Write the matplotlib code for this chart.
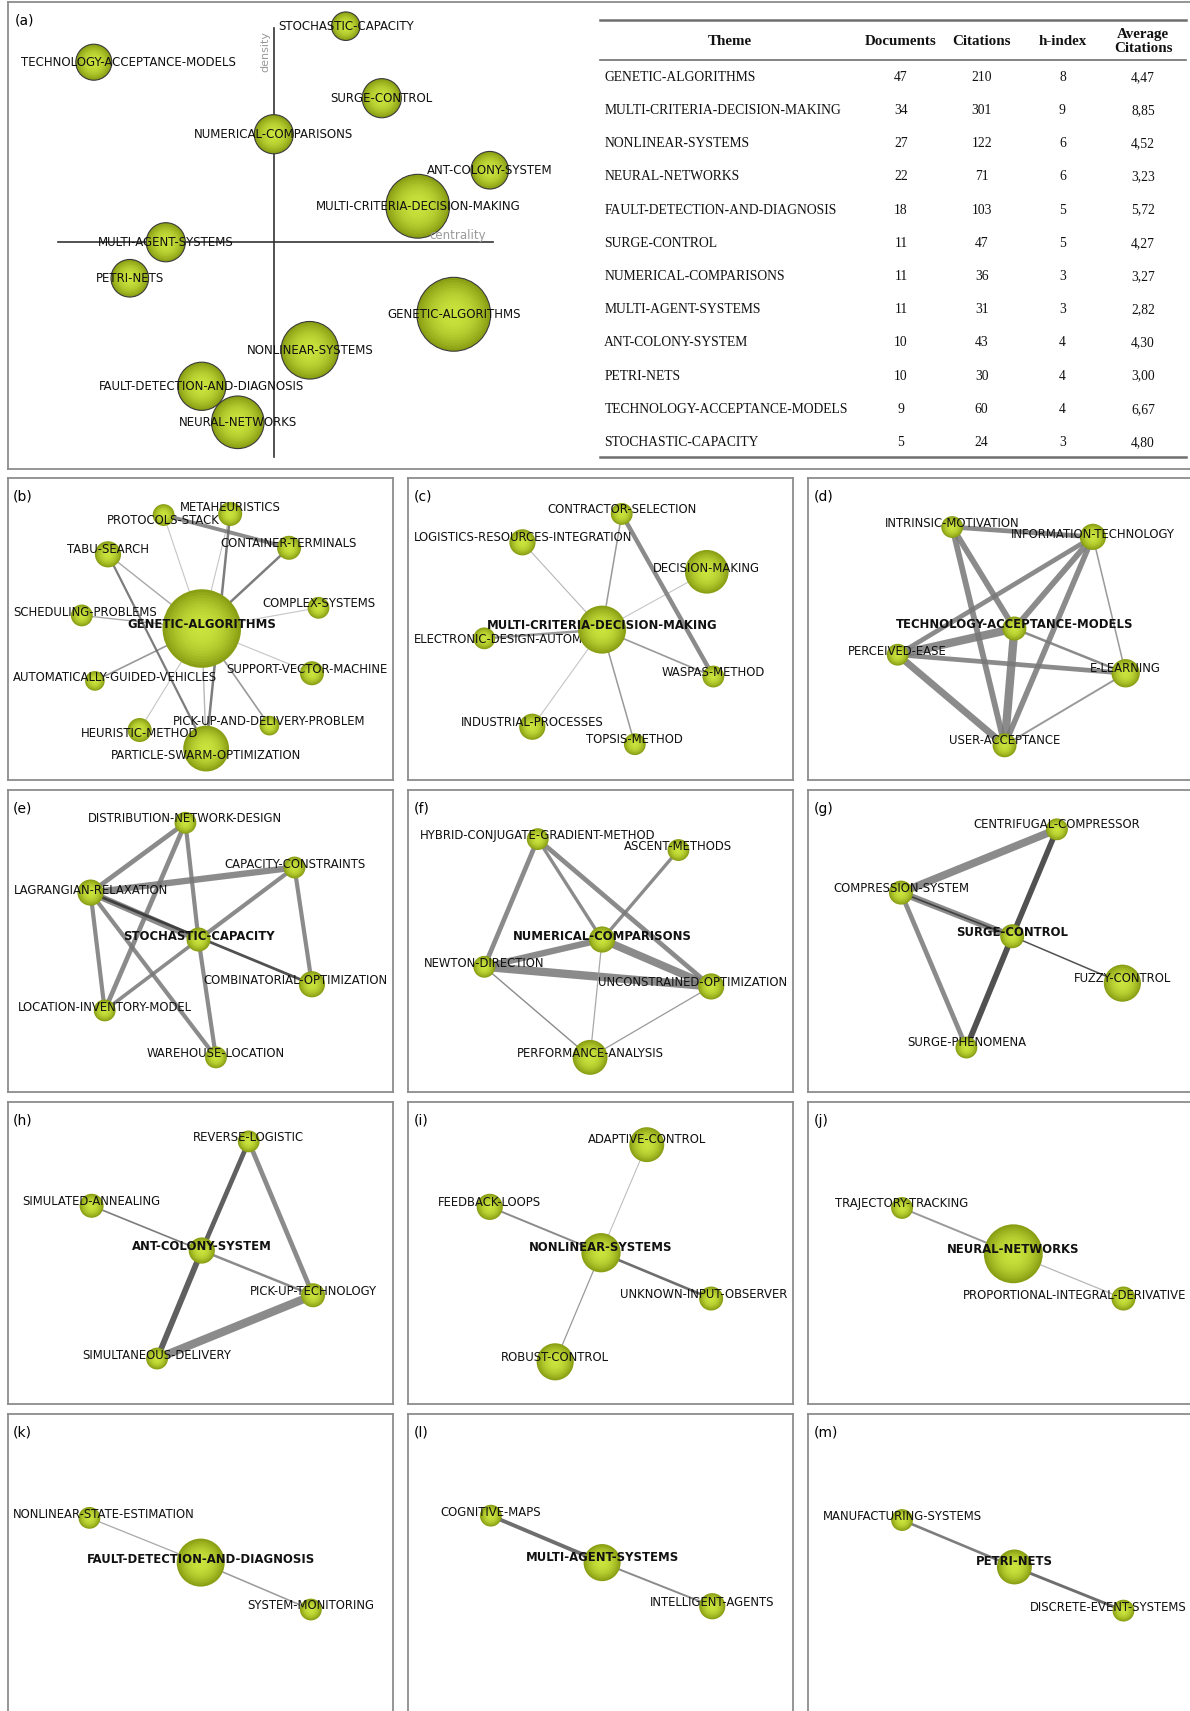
import numpy as np
import matplotlib
matplotlib.use("Agg")
import matplotlib.pyplot as plt
import matplotlib.patches as patches
from matplotlib.colors import to_rgb

# layout units: the figure is W x H "units" (1 unit ~ 1.09 output px)
W, H = 1091.0, 1568.0
PW, PH = 353.0, 277.0
COL_X = [7, 374, 741]
ROW_Y = [438, 724, 1010, 1296]

# ---------------- panel (a): strategic diagram + table ----------------
themes = ["GENETIC-ALGORITHMS", "MULTI-CRITERIA-DECISION-MAKING", "NONLINEAR-SYSTEMS",
          "NEURAL-NETWORKS", "FAULT-DETECTION-AND-DIAGNOSIS", "SURGE-CONTROL",
          "NUMERICAL-COMPARISONS", "MULTI-AGENT-SYSTEMS", "ANT-COLONY-SYSTEM",
          "PETRI-NETS", "TECHNOLOGY-ACCEPTANCE-MODELS", "STOCHASTIC-CAPACITY"]
documents = [47, 34, 27, 22, 18, 11, 11, 11, 10, 10, 9, 5]
citations = [210, 301, 122, 71, 103, 47, 36, 31, 43, 30, 60, 24]
h_index = [8, 9, 6, 6, 5, 5, 3, 3, 4, 4, 4, 3]
centrality_rank = [5, 4, 1, -1, -2, 3, 0, -3, 6, -4, -5, 2]
density_rank = [-2, 1, -3, -5, -4, 4, 3, 0, 2, -1, 5, 6]

# ---------------- cluster networks (b)-(m) ----------------
# node: (label, x, y, radius, label_y) in panel units; first node is the theme
panel_b_nodes = [("GENETIC-ALGORITHMS", 178, 138, 36, 134),
                 ("PARTICLE-SWARM-OPTIMIZATION", 182, 248, 21, 254),
                 ("PROTOCOLS-STACK", 143, 34, 10, 39),
                 ("METAHEURISTICS", 204, 33, 11, 27),
                 ("CONTAINER-TERMINALS", 258, 64, 11, 60),
                 ("TABU-SEARCH", 92, 70, 12, 66),
                 ("COMPLEX-SYSTEMS", 285, 119, 10, 115),
                 ("SCHEDULING-PROBLEMS", 68, 126, 10, 123),
                 ("SUPPORT-VECTOR-MACHINE", 279, 179, 11, 176),
                 ("AUTOMATICALLY-GUIDED-VEHICLES", 80, 186, 9, 183),
                 ("PICK-UP-AND-DELIVERY-PROBLEM", 240, 227, 9, 223),
                 ("HEURISTIC-METHOD", 121, 231, 11, 234)]
panel_b_links = [(0, 1, 1.0, "#aaaaaa"), (0, 2, 0.8, "#bbbbbb"), (0, 3, 0.8, "#bbbbbb"),
                 (0, 4, 1.8, "#666666"), (0, 5, 1.0, "#999999"), (0, 6, 0.8, "#bbbbbb"),
                 (0, 7, 1.0, "#999999"), (0, 8, 0.8, "#bbbbbb"), (0, 9, 1.2, "#888888"),
                 (0, 10, 1.2, "#888888"), (0, 11, 0.8, "#bbbbbb"), (2, 4, 2.8, "#777777"),
                 (5, 1, 1.6, "#666666"), (3, 1, 1.8, "#666666")]

panel_c_nodes = [("MULTI-CRITERIA-DECISION-MAKING", 178, 139, 22, 135),
                 ("CONTRACTOR-SELECTION", 196, 33, 10, 29),
                 ("LOGISTICS-RESOURCES-INTEGRATION", 105, 59, 12, 55),
                 ("DECISION-MAKING", 274, 86, 20, 83),
                 ("ELECTRONIC-DESIGN-AUTOMATION", 70, 147, 10, 148),
                 ("WASPAS-METHOD", 280, 182, 10, 178),
                 ("INDUSTRIAL-PROCESSES", 114, 228, 12, 224),
                 ("TOPSIS-METHOD", 208, 244, 10, 240)]
panel_c_links = [(0, 1, 1.1, "#888888"), (0, 2, 0.8, "#aaaaaa"), (0, 3, 0.8, "#bbbbbb"),
                 (0, 4, 1.8, "#888888"), (0, 5, 1.2, "#888888"), (0, 6, 0.8, "#bbbbbb"),
                 (0, 7, 1.1, "#888888"), (1, 5, 3.2, "#777777")]

panel_d_nodes = [("TECHNOLOGY-ACCEPTANCE-MODELS", 189, 138, 11, 134),
                 ("INTRINSIC-MOTIVATION", 132, 45, 10, 42),
                 ("INFORMATION-TECHNOLOGY", 261, 54, 12, 52),
                 ("PERCEIVED-EASE", 82, 162, 10, 159),
                 ("E-LEARNING", 291, 179, 13, 175),
                 ("USER-ACCEPTANCE", 180, 245, 11, 241)]
panel_d_links = [(0, 5, 6.0, "#777777"), (1, 5, 4.2, "#777777"), (1, 0, 4.2, "#777777"),
                 (3, 5, 5.0, "#777777"), (3, 0, 6.0, "#777777"), (2, 0, 4.2, "#777777"),
                 (2, 5, 4.0, "#777777"), (2, 3, 3.4, "#777777"), (1, 2, 3.4, "#777777"),
                 (3, 4, 3.4, "#777777"), (0, 4, 1.8, "#777777"), (2, 4, 1.1, "#888888"),
                 (4, 5, 1.4, "#888888")]

panel_e_nodes = [("STOCHASTIC-CAPACITY", 175, 137, 11, 134),
                 ("DISTRIBUTION-NETWORK-DESIGN", 163, 30, 10, 26),
                 ("CAPACITY-CONSTRAINTS", 263, 71, 10, 68),
                 ("LAGRANGIAN-RELAXATION", 76, 94, 12, 92),
                 ("COMBINATORIAL-OPTIMIZATION", 279, 178, 12, 175),
                 ("LOCATION-INVENTORY-MODEL", 89, 202, 10, 199),
                 ("WAREHOUSE-LOCATION", 191, 245, 10, 241)]
panel_e_links = [(3, 1, 3.4, "#777777"), (1, 5, 3.4, "#777777"), (1, 0, 3.0, "#777777"),
                 (0, 6, 3.0, "#777777"), (3, 2, 4.6, "#777777"), (3, 0, 4.6, "#777777"),
                 (3, 5, 3.0, "#777777"), (3, 6, 3.0, "#777777"), (2, 0, 3.0, "#777777"),
                 (2, 4, 3.0, "#777777"), (0, 5, 2.6, "#777777"), (3, 4, 2.0, "#333333")]

panel_f_nodes = [("NUMERICAL-COMPARISONS", 178, 137, 12, 134),
                 ("HYBRID-CONJUGATE-GRADIENT-METHOD", 119, 45, 10, 42),
                 ("ASCENT-METHODS", 248, 55, 10, 52),
                 ("NEWTON-DIRECTION", 70, 162, 10, 159),
                 ("UNCONSTRAINED-OPTIMIZATION", 278, 180, 12, 176),
                 ("PERFORMANCE-ANALYSIS", 167, 245, 16, 241)]
panel_f_links = [(1, 3, 3.4, "#777777"), (1, 0, 2.4, "#777777"), (1, 4, 3.4, "#777777"),
                 (2, 0, 2.4, "#777777"), (0, 3, 4.6, "#777777"), (0, 4, 5.6, "#777777"),
                 (3, 4, 6.0, "#777777"), (3, 5, 1.0, "#777777"), (0, 5, 0.9, "#999999"),
                 (4, 5, 0.9, "#888888")]

panel_g_nodes = [("SURGE-CONTROL", 187, 134, 11, 131),
                 ("CENTRIFUGAL-COMPRESSOR", 228, 36, 10, 32),
                 ("COMPRESSION-SYSTEM", 85, 94, 11, 90),
                 ("FUZZY-CONTROL", 288, 177, 17, 173),
                 ("SURGE-PHENOMENA", 145, 236, 10, 231)]
panel_g_links = [(1, 2, 5.6, "#777777"), (2, 0, 4.8, "#777777"), (2, 4, 3.4, "#777777"),
                 (1, 0, 4.0, "#333333"), (0, 4, 4.2, "#333333"), (2, 0, 1.2, "#333333"),
                 (0, 3, 1.1, "#333333")]

panel_h_nodes = [("ANT-COLONY-SYSTEM", 178, 136, 12, 132),
                 ("REVERSE-LOGISTIC", 221, 36, 10, 32),
                 ("SIMULATED-ANNEALING", 77, 95, 11, 91),
                 ("PICK-UP-TECHNOLOGY", 280, 177, 11, 174),
                 ("SIMULTANEOUS-DELIVERY", 137, 235, 10, 232)]
panel_h_links = [(1, 3, 3.4, "#777777"), (3, 4, 6.0, "#777777"), (0, 3, 1.8, "#777777"),
                 (2, 0, 1.2, "#666666"), (1, 0, 3.4, "#444444"), (0, 4, 4.2, "#444444")]

panel_i_nodes = [("NONLINEAR-SYSTEMS", 177, 138, 18, 133),
                 ("ADAPTIVE-CONTROL", 219, 39, 16, 34),
                 ("FEEDBACK-LOOPS", 75, 96, 12, 92),
                 ("UNKNOWN-INPUT-OBSERVER", 278, 180, 11, 176),
                 ("ROBUST-CONTROL", 135, 238, 17, 234)]
panel_i_links = [(1, 0, 0.7, "#aaaaaa"), (2, 0, 1.4, "#777777"), (0, 3, 1.9, "#555555"),
                 (0, 4, 0.9, "#888888")]

panel_j_nodes = [("NEURAL-NETWORKS", 188, 139, 27, 135),
                 ("TRAJECTORY-TRACKING", 86, 97, 10, 93),
                 ("PROPORTIONAL-INTEGRAL-DERIVATIVE", 289, 180, 11, 177)]
panel_j_links = [(1, 0, 1.4, "#888888"), (0, 2, 0.9, "#aaaaaa")]

panel_k_nodes = [("FAULT-DETECTION-AND-DIAGNOSIS", 177, 136, 22, 133),
                 ("NONLINEAR-STATE-ESTIMATION", 75, 95, 10, 92),
                 ("SYSTEM-MONITORING", 278, 179, 10, 175)]
panel_k_links = [(1, 0, 0.9, "#999999"), (0, 2, 1.1, "#888888")]

panel_l_nodes = [("MULTI-AGENT-SYSTEMS", 178, 136, 17, 131),
                 ("COGNITIVE-MAPS", 76, 93, 10, 90),
                 ("INTELLIGENT-AGENTS", 279, 176, 12, 173)]
panel_l_links = [(1, 0, 2.8, "#555555"), (0, 2, 1.4, "#777777")]

panel_m_nodes = [("PETRI-NETS", 189, 140, 16, 135),
                 ("MANUFACTURING-SYSTEMS", 86, 97, 10, 94),
                 ("DISCRETE-EVENT-SYSTEMS", 289, 180, 10, 177)]
panel_m_links = [(1, 0, 1.9, "#666666"), (0, 2, 2.1, "#555555")]

networks = [("(b)", panel_b_nodes, panel_b_links), ("(c)", panel_c_nodes, panel_c_links),
            ("(d)", panel_d_nodes, panel_d_links), ("(e)", panel_e_nodes, panel_e_links),
            ("(f)", panel_f_nodes, panel_f_links), ("(g)", panel_g_nodes, panel_g_links),
            ("(h)", panel_h_nodes, panel_h_links), ("(i)", panel_i_nodes, panel_i_links),
            ("(j)", panel_j_nodes, panel_j_links), ("(k)", panel_k_nodes, panel_k_links),
            ("(l)", panel_l_nodes, panel_l_links), ("(m)", panel_m_nodes, panel_m_links)]

LABEL_FONT = "DejaVu Sans"
LABEL_SIZE = 8.4
FRAME_COLOR = "#8c8c8c"
EDGE_RGB = np.array(to_rgb("#8a9f14"))
CENTER_RGB = np.array(to_rgb("#c9e23c"))

fig = plt.figure(figsize=(11.9, 17.11), dpi=100)
fig.patch.set_facecolor("white")
renderer = fig.canvas.get_renderer()


def make_panel(x0, y0, w, h):
    ax = fig.add_axes([x0 / W, 1 - (y0 + h) / H, w / W, h / H])
    ax.set_xticks([])
    ax.set_yticks([])
    for s in ax.spines.values():
        s.set_color(FRAME_COLOR)
        s.set_linewidth(1.3)
    return ax


def draw_node(ax, x, y, r, z, outline=False):
    # fake radial gradient with stacked circles
    n = 14
    for k in range(n):
        t = k / (n - 1)
        rr = r * (1 - 0.93 * t)
        col = EDGE_RGB + (CENTER_RGB - EDGE_RGB) * (1 - (1 - t) ** 2)
        ax.add_patch(patches.Circle((x, y), rr, facecolor=col, edgecolor="none",
                                    zorder=z, clip_on=False))
    if outline:
        ax.add_patch(patches.Circle((x, y), r, facecolor="none", edgecolor="#3a3a3a",
                                    lw=0.8, zorder=z + 0.01, clip_on=False))


def put_label(ax, x, y, txt, z, bold=False, margin=5.0, size=LABEL_SIZE, right_lim=None):
    t = ax.text(x, y, txt, ha="center", va="center", fontsize=size, family=LABEL_FONT,
                fontweight="bold" if bold else "normal", color="#111111", zorder=z,
                clip_on=False)
    bb = t.get_window_extent(renderer).transformed(ax.transData.inverted())
    left, right = min(bb.x0, bb.x1), max(bb.x0, bb.x1)
    lo = ax.get_xlim()[0] + margin
    hi = (ax.get_xlim()[1] - margin) if right_lim is None else right_lim
    if left < lo:
        t.set_ha("left")
        t.set_x(lo)
    elif right > hi:
        t.set_ha("right")
        t.set_x(hi)
    return t


# ---------------- panel (a) ----------------
STEP = 33.0
CROSS_X, CROSS_Y = 251.0, 222.0
ax_a = make_panel(7, 2, 1087, 428)
ax_a.set_xlim((7 - CROSS_X) / STEP, (1094 - CROSS_X) / STEP)
ax_a.set_ylim((CROSS_Y - 430) / STEP, (CROSS_Y - 2) / STEP)
ax_a.plot([0, 0], [-5.95, 5.95], color="#333333", lw=1.2, zorder=1)
ax_a.plot([-6.0, 6.1], [0, 0], color="#333333", lw=1.2, zorder=1)
ax_a.text(-0.22, 5.3, "density", rotation=90, ha="center", va="center", fontsize=8,
          family=LABEL_FONT, color="#9a9a9a")
ax_a.text(5.1, 0.2, "centrality", ha="center", va="center", fontsize=8.5,
          family=LABEL_FONT, color="#9a9a9a", zorder=30)
ax_a.text(-7.2, 6.15, "(a)", ha="left", va="center", fontsize=10, family=LABEL_FONT)
for i, name in enumerate(themes):
    r = (4.5 * np.sqrt(documents[i]) + 3) / STEP
    z = 2 + i
    draw_node(ax_a, centrality_rank[i], density_rank[i], r, z, outline=True)
    put_label(ax_a, centrality_rank[i], density_rank[i], name, z + 0.5,
              margin=12 / STEP, size=8.5)

# table
ax_t = fig.add_axes([0, 0, 1, 1], facecolor="none")
ax_t.set_xlim(0, W)
ax_t.set_ylim(H, 0)
ax_t.axis("off")
for yy, lw in [(18, 1.8), (55, 1.2), (419, 1.8)]:
    ax_t.plot([550, 1087], [yy, yy], color="#6e6e6e", lw=lw)
tfont = dict(family="Liberation Serif", color="#111111")
col_x = [826, 900, 974, 1048]
ax_t.text(669, 38, "Theme", ha="center", va="center", fontweight="bold", fontsize=10.8, **tfont)
for cx, head in zip(col_x[:3], ["Documents", "Citations", "h-index"]):
    ax_t.text(cx, 38, head, ha="center", va="center", fontweight="bold", fontsize=10.8, **tfont)
ax_t.text(col_x[3], 38, "Average\nCitations", ha="center", va="center",
          fontweight="bold", fontsize=10.8, linespacing=1.05, **tfont)
row_y = 71 + 30.4 * np.arange(len(themes))
for i, name in enumerate(themes):
    avg = f"{citations[i] / documents[i]:.2f}".replace(".", ",")
    ax_t.text(554, row_y[i], name, ha="left", va="center", fontsize=9.8, **tfont)
    for cx, val in zip(col_x, [documents[i], citations[i], h_index[i], avg]):
        ax_t.text(cx, row_y[i], str(val), ha="center", va="center", fontsize=9.8, **tfont)

# ---------------- network panels ----------------
for idx, (tag, nodes, links) in enumerate(networks):
    row, col = divmod(idx, 3)
    ax = make_panel(COL_X[col], ROW_Y[row], PW, PH)
    ax.set_xlim(0, PW)
    ax.set_ylim(PH, 0)
    # keep labels inside the visible page on the rightmost column
    rlim = min(PW - 5, W - 3 - COL_X[col])
    ax.text(5, 17, tag, ha="left", va="center", fontsize=10, family=LABEL_FONT)
    for a, b, lw, c in links:
        ax.plot([nodes[a][1], nodes[b][1]], [nodes[a][2], nodes[b][2]], color=c, lw=lw,
                alpha=0.85, solid_capstyle="butt", zorder=1)
    order = list(range(1, len(nodes))) + [0]
    for k, i in enumerate(order):
        name, x, y, r, ly = nodes[i]
        z = 2 + k
        draw_node(ax, x, y, r, z)
        put_label(ax, x, ly, name, z + 0.5 if i else 50, bold=(i == 0), right_lim=rlim)

fig.savefig("out.png", dpi=100)
